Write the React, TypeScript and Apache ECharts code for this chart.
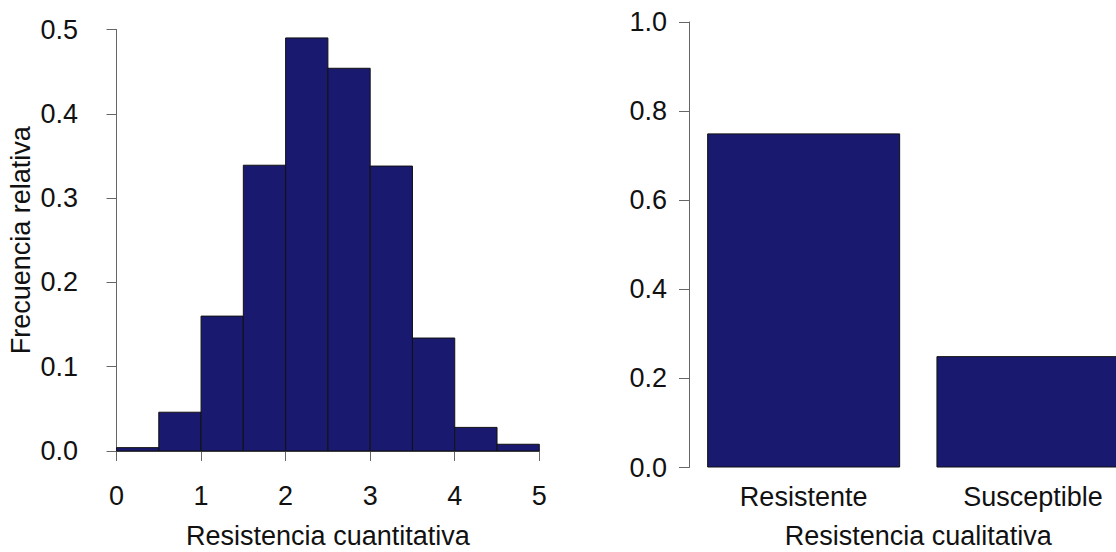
import React, { useEffect, useRef } from "react";
import * as echarts from "echarts";

const breaks = [0, 0.5, 1, 1.5, 2, 2.5, 3, 3.5, 4, 4.5, 5];
const density = [0.004, 0.046, 0.16, 0.339, 0.49, 0.454, 0.338, 0.134, 0.028, 0.008];
const categories = ["Resistente", "Susceptible"];
const proportions = [0.75, 0.25];

const FILL = "#191970";
const EDGE = "#111111";
const AXIS = "#666666";
const FONT = "'Liberation Sans', Arial, sans-serif";
const FS = 27;

export default function App() {
  const ref = useRef<HTMLDivElement>(null);
  useEffect(() => {
    if (!ref.current) return;
    const chart = echarts.init(ref.current, null, { renderer: "svg" });
    const histData = density.map((d, i) => [breaks[i], breaks[i + 1], d]);
    const axisLine = { show: true, lineStyle: { color: AXIS, width: 1 } };
    const axisTick = { show: true, length: 10, lineStyle: { color: AXIS, width: 1 } };
    const label = { color: "#111", fontSize: FS, fontFamily: FONT };
    const nameStyle = { color: "#111", fontSize: FS, fontFamily: FONT };
    const bottomNameStyle = { ...nameStyle, lineHeight: 22 };
    chart.setOption({
      animation: false,
      backgroundColor: "#ffffff",
      grid: [
        { left: 116.5, top: 29.5, width: 422.8, height: 421.5, outerBoundsMode: "none", containLabel: false },
        { left: 689, top: 22, width: 458.6, height: 445.5, outerBoundsMode: "none", containLabel: false },
      ],
      xAxis: [
        {
          gridIndex: 0,
          type: "value",
          min: 0,
          max: 5,
          interval: 1,
          offset: 16.7,
          axisLine,
          axisTick,
          splitLine: { show: false },
          axisLabel: { ...label, margin: 15 },
          name: "Resistencia cuantitativa",
          nameLocation: "middle",
          nameGap: 57,
          nameTextStyle: bottomNameStyle,
        },
        {
          gridIndex: 1,
          type: "category",
          data: categories,
          axisLine: { show: false },
          axisTick: { show: false },
          splitLine: { show: false },
          axisLabel: { ...label, margin: 16 },
          name: "Resistencia cualitativa",
          nameLocation: "middle",
          nameGap: 57,
          nameTextStyle: bottomNameStyle,
        },
      ],
      yAxis: [
        {
          gridIndex: 0,
          type: "value",
          min: 0,
          max: 0.5,
          interval: 0.1,
          offset: 16.5,
          axisLine,
          axisTick,
          splitLine: { show: false },
          axisLabel: { ...label, margin: 22, formatter: (v: number) => v.toFixed(1) },
          name: "Frecuencia relativa",
          nameLocation: "middle",
          nameGap: 66,
          nameTextStyle: nameStyle,
        },
        {
          gridIndex: 1,
          type: "value",
          min: 0,
          max: 1,
          interval: 0.2,
          axisLine,
          axisTick,
          splitLine: { show: false },
          axisLabel: { ...label, margin: 22, formatter: (v: number) => v.toFixed(1) },
        },
      ],
      series: [
        {
          type: "custom",
          xAxisIndex: 0,
          yAxisIndex: 0,
          data: histData,
          encode: { x: [0, 1], y: 2 },
          renderItem: (params: any, api: any) => {
            const p0 = api.coord([api.value(0), api.value(2)]);
            const p1 = api.coord([api.value(1), 0]);
            return {
              type: "rect",
              shape: { x: p0[0], y: p0[1], width: p1[0] - p0[0], height: p1[1] - p0[1] },
              style: { fill: FILL, stroke: EDGE, lineWidth: 1 },
            };
          },
        },
        {
          type: "bar",
          xAxisIndex: 1,
          yAxisIndex: 1,
          data: proportions,
          barWidth: 193,
          itemStyle: { color: FILL, borderColor: EDGE, borderWidth: 1 },
        },
      ],
    });
    return () => chart.dispose();
  }, []);
  return (
    <div
      ref={ref}
      style={{ position: "fixed", left: 0, top: 0, width: 1116, height: 552, background: "#fff" }}
    />
  );
}
